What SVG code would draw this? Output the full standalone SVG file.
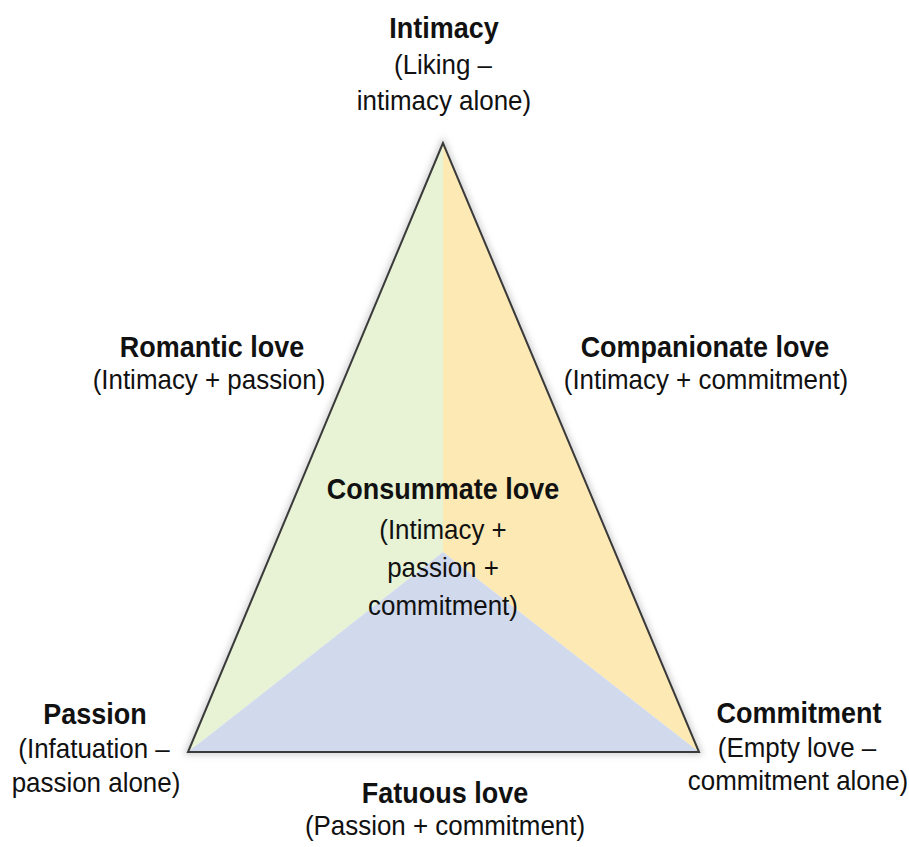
<svg xmlns="http://www.w3.org/2000/svg" width="909" height="847" viewBox="0 0 909 847">
<style>
  text { font-family: "Liberation Sans", Arial, Helvetica, sans-serif; fill: #111; text-anchor: middle; }
  .t { font-size: 29px; font-weight: bold; }
  .s { font-size: 28.5px; }
  .edge { fill: none; stroke: #3a3a3a; stroke-width: 2; stroke-linejoin: miter; }
</style>
<defs>
  <filter id="sh" x="-10%" y="-10%" width="120%" height="120%">
    <feGaussianBlur stdDeviation="3"/>
  </filter>
</defs>
<rect width="909" height="847" fill="#ffffff"/>
<g id="triangle">
  <polygon points="443,143 188,752 699,752" fill="none" stroke="#c8c8c8" stroke-width="5" filter="url(#sh)"/>
  <polygon id="region-passion" points="443,143 443,552 188,752" fill="#e7f3d4"/>
  <polygon id="region-commitment" points="443,143 699,752 443,552" fill="#fde9b4"/>
  <polygon id="region-fatuous" points="188,752 443,552 699,752" fill="#d1d9ec"/>
  <polygon class="edge" points="443,143 188,752 699,752"/>
</g>
<g id="node-intimacy">
  <text class="t" transform="translate(444,38) scale(0.93,1)">Intimacy</text>
  <text class="s" transform="translate(443,74) scale(0.91,1)">(Liking –</text>
  <text class="s" transform="translate(444,110) scale(0.91,1)">intimacy alone)</text>
</g>
<g id="node-romantic">
  <text class="t" transform="translate(212,357) scale(0.93,1)">Romantic love</text>
  <text class="s" transform="translate(209,389) scale(0.91,1)">(Intimacy + passion)</text>
</g>
<g id="node-companionate">
  <text class="t" transform="translate(705,357) scale(0.93,1)">Companionate love</text>
  <text class="s" transform="translate(706,389) scale(0.91,1)">(Intimacy + commitment)</text>
</g>
<g id="node-consummate">
  <text class="t" transform="translate(443,499) scale(0.93,1)">Consummate love</text>
  <text class="s" transform="translate(443,539) scale(0.91,1)">(Intimacy +</text>
  <text class="s" transform="translate(443,577) scale(0.91,1)">passion +</text>
  <text class="s" transform="translate(443,615) scale(0.91,1)">commitment)</text>
</g>
<g id="node-passion">
  <text class="t" transform="translate(95,724) scale(0.93,1)">Passion</text>
  <text class="s" transform="translate(94,758) scale(0.91,1)">(Infatuation –</text>
  <text class="s" transform="translate(96,792) scale(0.91,1)">passion alone)</text>
</g>
<g id="node-commitment">
  <text class="t" transform="translate(799,723) scale(0.93,1)">Commitment</text>
  <text class="s" transform="translate(797,757) scale(0.91,1)">(Empty love –</text>
  <text class="s" transform="translate(798,790) scale(0.91,1)">commitment alone)</text>
</g>
<g id="node-fatuous">
  <text class="t" transform="translate(445,803) scale(0.93,1)">Fatuous love</text>
  <text class="s" transform="translate(445,835) scale(0.91,1)">(Passion + commitment)</text>
</g>
<g id="connectors"></g>
</svg>
